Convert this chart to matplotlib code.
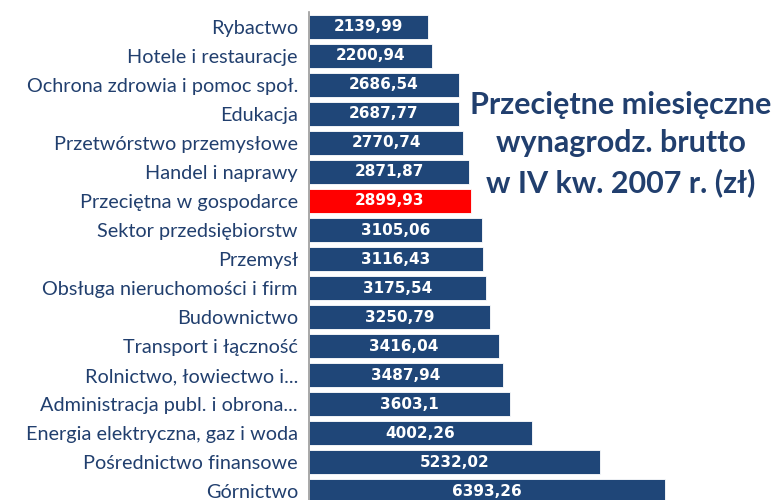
import matplotlib
matplotlib.use('Agg')
from matplotlib import pyplot as plt


# Data (top to bottom)
categories = [
    'Rybactwo',
    'Hotele i restauracje',
    'Ochrona zdrowia i pomoc społ.',
    'Edukacja',
    'Przetwórstwo przemysłowe',
    'Handel i naprawy',
    'Przeciętna w gospodarce',
    'Sektor przedsiębiorstw',
    'Przemysł',
    'Obsługa nieruchomości i firm',
    'Budownictwo',
    'Transport i łączność',
    'Rolnictwo, łowiectwo i...',
    'Administracja publ. i obrona...',
    'Energia elektryczna, gaz i woda',
    'Pośrednictwo finansowe',
    'Górnictwo',
]
values = [2139.99, 2200.94, 2686.54, 2687.77, 2770.74, 2871.87, 2899.93,
          3105.06, 3116.43, 3175.54, 3250.79, 3416.04, 3487.94, 3603.1,
          4002.26, 5232.02, 6393.26]
value_labels = ['2139,99', '2200,94', '2686,54', '2687,77', '2770,74', '2871,87',
                '2899,93', '3105,06', '3116,43', '3175,54', '3250,79', '3416,04',
                '3487,94', '3603,1', '4002,26', '5232,02', '6393,26']
highlight = 'Przeciętna w gospodarce'

title = 'Przeciętne miesięczne\nwynagrodz. brutto\nw IV kw. 2007 r. (zł)'

blue = '#1F4678'
red = '#FF0000'
text_blue = '#213F6E'

fig = plt.figure(figsize=(7.8, 5.0), dpi=100)
ax = fig.add_axes([309 / 780, 0.0, 471 / 780, 1 - 12 / 500])

pos = list(range(len(categories)))
colors = [red if c == highlight else blue for c in categories]
ax.barh(pos, values, height=0.82, color=colors, edgecolor='white', linewidth=0.6)

for p, v, lab in zip(pos, values, value_labels):
    ax.text(v / 2, p, lab, ha='center', va='center', color='white',
            fontsize=11, fontweight='bold', family='DejaVu Sans')

ax.set_xlim(0, 471 / 0.0557)
ax.set_ylim(16.31, -0.517)

ax.set_yticks(pos)
ax.set_yticklabels(categories, fontsize=14.3, color=text_blue, family='Lato')
ax.tick_params(axis='y', length=0, pad=8)
ax.set_xticks([])

for side in ['top', 'right', 'bottom']:
    ax.spines[side].set_visible(False)
ax.spines['left'].set_color('#9A9A9A')
ax.spines['left'].set_linewidth(1.2)

fig.text(621 / 780, 1 - 144 / 500, title, ha='center', va='center',
         fontsize=22, fontweight='bold', color=text_blue, family='Lato',
         linespacing=1.45)

fig.savefig('out.png', dpi=100)
